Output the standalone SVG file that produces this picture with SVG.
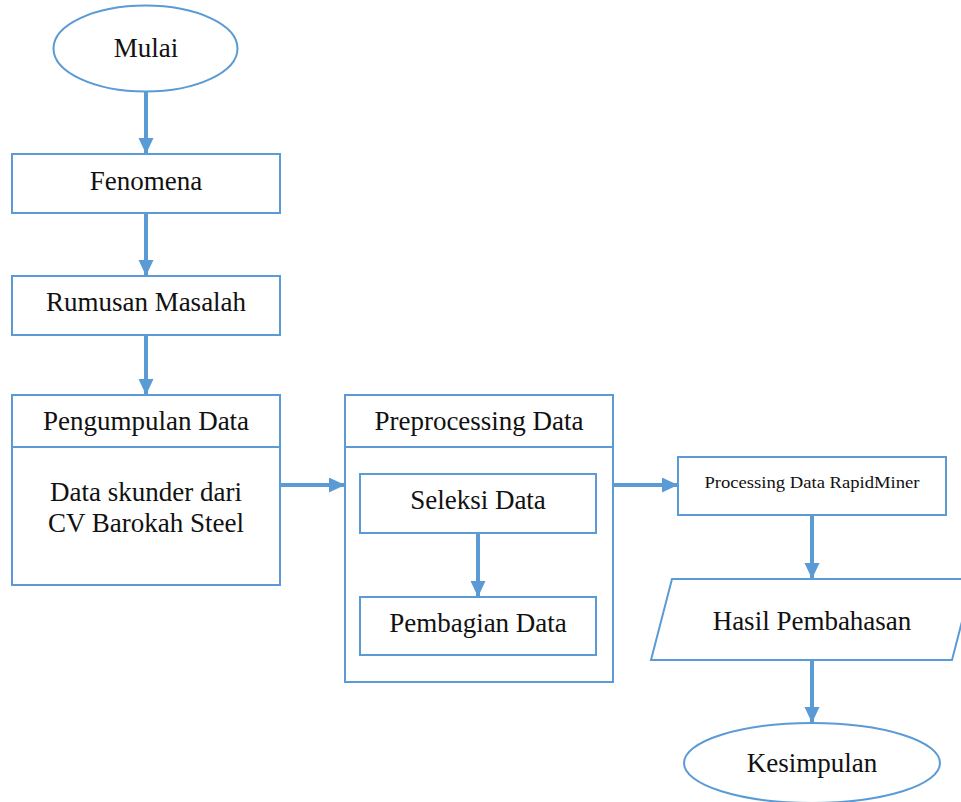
<svg xmlns="http://www.w3.org/2000/svg" width="961" height="802" viewBox="0 0 961 802">
<style>
.s{fill:#fff;stroke:#5B9BD5;stroke-width:2}
.t{font-family:"Liberation Serif","Times New Roman",serif;font-size:27px;fill:#111;text-anchor:middle}
.sm{font-size:17px}
.c{stroke:#5B9BD5;stroke-width:4;fill:none;marker-end:url(#ah)}
</style>
<defs>
<marker id="ah" markerUnits="userSpaceOnUse" markerWidth="16" markerHeight="16" refX="16" refY="7.5" orient="auto">
<path d="M0,0 L16,7.5 L0,15 z" fill="#5B9BD5"/>
</marker>
</defs>
<rect width="961" height="802" fill="#fff"/>
<g id="mulai">
<ellipse class="s" cx="145.5" cy="48.5" rx="92" ry="43"/>
<text class="t" x="146" y="57">Mulai</text>
</g>
<g id="fenomena">
<rect class="s" x="12" y="154" width="268" height="59"/>
<text class="t" x="146" y="190">Fenomena</text>
</g>
<g id="rumusan">
<rect class="s" x="12" y="276" width="268" height="59"/>
<text class="t" x="146" y="311">Rumusan Masalah</text>
</g>
<g id="pengumpulan">
<rect class="s" x="12" y="395" width="268" height="190"/>
<line x1="12" y1="447" x2="280" y2="447" stroke="#5B9BD5" stroke-width="2"/>
<text class="t" x="146" y="430">Pengumpulan Data</text>
<text class="t" x="146" y="501">Data skunder dari</text>
<text class="t" x="146" y="532">CV Barokah Steel</text>
</g>
<g id="preprocessing">
<rect class="s" x="345" y="395" width="268" height="287"/>
<line x1="345" y1="447" x2="613" y2="447" stroke="#5B9BD5" stroke-width="2"/>
<text class="t" x="479" y="430">Preprocessing Data</text>
</g>
<g id="seleksi">
<rect class="s" x="360" y="474" width="236" height="59"/>
<text class="t" x="478" y="509">Seleksi Data</text>
</g>
<g id="pembagian">
<rect class="s" x="360" y="597" width="236" height="58"/>
<text class="t" x="478" y="632">Pembagian Data</text>
</g>
<g id="processing">
<rect class="s" x="678" y="457" width="268" height="58"/>
<text class="t sm" x="812" y="488" textLength="215" lengthAdjust="spacingAndGlyphs">Processing Data RapidMiner</text>
</g>
<g id="hasil">
<polygon class="s" points="672,579 973,579 952,660 651,660"/>
<text class="t" x="812" y="630">Hasil Pembahasan</text>
</g>
<g id="kesimpulan">
<ellipse class="s" cx="812" cy="763" rx="128" ry="40"/>
<text class="t" x="812" y="772">Kesimpulan</text>
</g>
<g id="connectors">
<line class="c" x1="146" y1="92" x2="146" y2="154"/>
<line class="c" x1="146" y1="213" x2="146" y2="276"/>
<line class="c" x1="146" y1="335" x2="146" y2="395"/>
<line class="c" x1="281" y1="485" x2="345" y2="485"/>
<line class="c" x1="478" y1="534" x2="478" y2="597"/>
<line class="c" x1="614" y1="485" x2="678" y2="485"/>
<line class="c" x1="812" y1="516" x2="812" y2="579"/>
<line class="c" x1="812" y1="661" x2="812" y2="723"/>
</g>
</svg>
